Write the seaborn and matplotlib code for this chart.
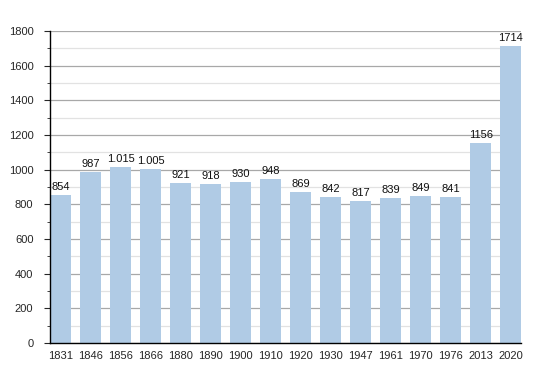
import matplotlib
matplotlib.use("Agg")
import matplotlib.pyplot as plt
from matplotlib.ticker import MultipleLocator
import pandas as pd
import seaborn as sns

years = ["1831", "1846", "1856", "1866", "1880", "1890", "1900", "1910",
         "1920", "1930", "1947", "1961", "1970", "1976", "2013", "2020"]
population = [854, 987, 1015, 1005, 921, 918, 930, 948,
              869, 842, 817, 839, 849, 841, 1156, 1714]
labels = ["854", "987", "1.015", "1.005", "921", "918", "930", "948",
          "869", "842", "817", "839", "849", "841", "1156", "1714"]

df = pd.DataFrame({"year": years, "pop": population})

sns.set_style("white")
plt.rcParams["font.family"] = ["Liberation Sans", "DejaVu Sans"]

fig, ax = plt.subplots(figsize=(5.5, 3.73), dpi=100)
fig.subplots_adjust(left=0.091, right=0.948, top=0.917, bottom=0.08)

sns.barplot(data=df, x="year", y="pop", color="#b0cbe5", width=0.7,
            saturation=1, ax=ax, linewidth=0, edgecolor="none")
for p in ax.patches:
    p.set_zorder(3)

# value labels above each bar
for i, (v, t) in enumerate(zip(population, labels)):
    ax.text(i, v + 18, t, ha="center", va="bottom", fontsize=8, color="#111111")

ax.set_xlim(-0.35, len(years) - 0.65)
ax.set_ylim(0, 1800)
ax.yaxis.set_major_locator(MultipleLocator(200))
ax.yaxis.set_minor_locator(MultipleLocator(100))
ax.grid(axis="y", which="major", color="#a8a8a8", linewidth=0.9, zorder=0)
ax.grid(axis="y", which="minor", color="#e2e2e2", linewidth=0.9, zorder=0)
ax.set_axisbelow(True)

ax.set_xlabel("")
ax.set_ylabel("")
for s in ["top", "right"]:
    ax.spines[s].set_visible(False)
ax.spines["left"].set_color("black")
ax.spines["bottom"].set_color("black")
ax.spines["left"].set_linewidth(1)
ax.spines["bottom"].set_linewidth(1)
ax.spines["left"].set_zorder(4)
ax.spines["bottom"].set_zorder(4)

ax.tick_params(axis="y", which="major", left=True, length=4, width=0.8,
               labelsize=8, pad=8)
ax.tick_params(axis="y", which="minor", left=True, length=2, width=0.6)
ax.tick_params(axis="x", bottom=False, labelsize=8, pad=2)

fig.savefig("out.png", dpi=100)
